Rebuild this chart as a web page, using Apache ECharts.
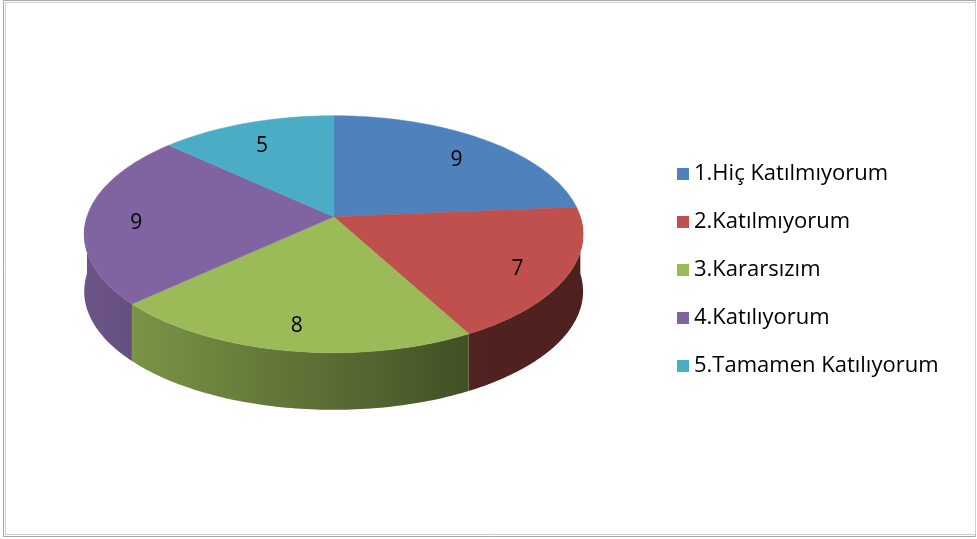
<!DOCTYPE html>
<html>
<head>
<meta charset="utf-8" />
<title>3D Pasta</title>
<script src="https://cdn.jsdelivr.net/npm/echarts@6/dist/echarts.min.js"></script>
<style>
  html, body { margin: 0; padding: 0; background: #fff; }
  #chart { width: 977px; height: 539px; }
</style>
</head>
<body>
<div id="chart"></div>
<script>
  // veriler
  var categories = ['1.Hiç Katılmıyorum', '2.Katılmıyorum', '3.Kararsızım', '4.Katılıyorum', '5.Tamamen Katılıyorum'];
  var values = [9, 7, 8, 9, 5];
  var colors = ['#4F81BD', '#C0504D', '#9BBB59', '#8064A2', '#4BACC6'];

  var total = values.reduce(function (a, b) { return a + b; }, 0);
  var starts = [];
  var acc = 0;
  values.forEach(function (v) { starts.push(acc); acc += v; });

  // perspektif geometri (sayfa oranlarina gore)
  function geo(api) {
    var w = api.getWidth(), h = api.getHeight();
    return { cx: w * 0.3415, cy: h * 0.402, rx: w * 0.2525, ry: h * 0.215, depth: h * 0.106, k: 0.148 };
  }

  function pt(g, theta, r, dy) {
    var c = Math.cos(theta), s = Math.sin(theta);
    var d = 1 + g.k * r * c;
    return [g.cx + g.rx * r * s / d, g.cy - g.ry * r * c / d + (dy || 0)];
  }

  function angles(i) {
    return [starts[i] / total * Math.PI * 2, (starts[i] + values[i]) / total * Math.PI * 2];
  }

  function shade(hex, f) {
    var n = parseInt(hex.slice(1), 16);
    var r = Math.round(((n >> 16) & 255) * f), gg = Math.round(((n >> 8) & 255) * f), b = Math.round((n & 255) * f);
    return 'rgb(' + r + ',' + gg + ',' + b + ')';
  }

  function renderTop(i) {
    return function (params, api) {
      var g = geo(api);
      var a = angles(i);
      var pts = [[g.cx, g.cy]];
      var n = Math.max(4, Math.ceil((a[1] - a[0]) / (Math.PI / 180)));
      for (var j = 0; j <= n; j++) {
        pts.push(pt(g, a[0] + (a[1] - a[0]) * j / n, 1));
      }
      var mid = (a[0] + a[1]) / 2;
      var lp = pt(g, mid, 0.8, 6);
      return {
        type: 'group',
        children: [
          { type: 'polygon', shape: { points: pts }, style: { fill: colors[i], stroke: colors[i], lineWidth: 0.5 } },
          { type: 'text', x: lp[0], y: lp[1], style: { text: String(values[i]), fill: '#000', font: '21px "Open Sans", sans-serif', align: 'center', verticalAlign: 'middle' }, z2: 10 }
        ]
      };
    };
  }

  function renderWall(params, api) {
    var i = params.dataIndex;
    var g = geo(api);
    var a = angles(i);
    // sadece on yuz gorunur
    var lo = Math.max(a[0], Math.PI / 2), hi = Math.min(a[1], Math.PI * 1.5);
    if (hi <= lo) return null;
    var n = Math.max(4, Math.ceil((hi - lo) / (Math.PI / 180)));
    var top = [], bot = [];
    for (var j = 0; j <= n; j++) {
      var t = lo + (hi - lo) * j / n;
      top.push(pt(g, t, 1));
      bot.push(pt(g, t, 1, g.depth));
    }
    var x0 = g.cx - g.rx, x1 = g.cx + g.rx;
    return {
      type: 'polygon',
      shape: { points: top.concat(bot.reverse()) },
      style: {
        fill: new echarts.graphic.LinearGradient(x0, 0, x1, 0, [
          { offset: 0, color: shade(colors[i], 0.84) },
          { offset: 0.55, color: shade(colors[i], 0.55) },
          { offset: 0.78, color: shade(colors[i], 0.42) },
          { offset: 1, color: shade(colors[i], 0.4) }
        ], true),
        stroke: 'rgba(0,0,0,0)'
      }
    };
  }

  var myChart = echarts.init(document.getElementById('chart'));

  var series = [{
    type: 'custom',
    name: 'walls',
    coordinateSystem: 'none',
    z: 1,
    silent: true,
    data: values,
    renderItem: renderWall
  }];

  categories.forEach(function (name, i) {
    series.push({
      type: 'custom',
      name: name,
      coordinateSystem: 'none',
      z: 2,
      itemStyle: { color: colors[i] },
      data: [values[i]],
      renderItem: renderTop(i)
    });
  });

  var option = {
    animation: false,
    color: colors,
    legend: {
      data: categories.map(function (c) { return { name: c, icon: 'rect' }; }),
      orient: 'vertical',
      left: 672,
      top: 157,
      itemWidth: 12,
      itemHeight: 12,
      itemGap: 24,
      selectedMode: false,
      textStyle: { fontFamily: 'Open Sans', fontSize: 22, color: '#000', lineHeight: 24 }
    },
    graphic: [
      { type: 'rect', shape: { x: 3.5, y: 0.5, width: 972, height: 536 }, style: { fill: 'none', stroke: '#a6a6a6', lineWidth: 1 } },
      { type: 'rect', shape: { x: 5.5, y: 2.5, width: 970, height: 532 }, style: { fill: 'none', stroke: '#d0d0d0', lineWidth: 1 } }
    ],
    series: series
  };

  myChart.setOption(option);
</script>
</body>
</html>
